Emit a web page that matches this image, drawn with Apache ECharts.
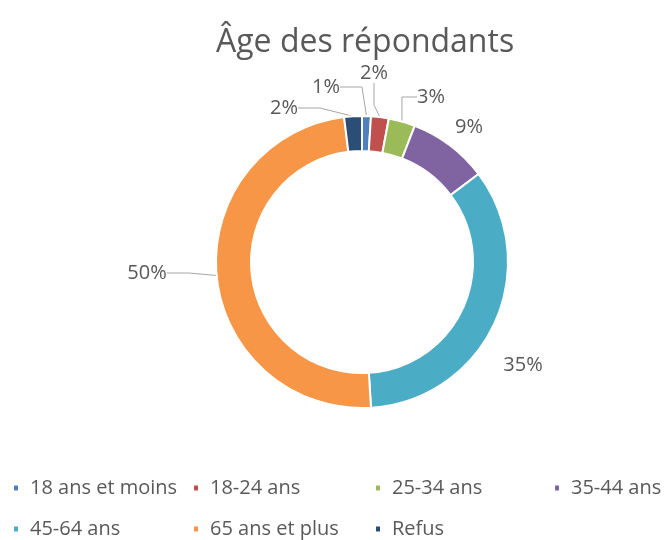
<!DOCTYPE html>
<html>
<head>
<meta charset="utf-8">
<script src="https://cdn.jsdelivr.net/npm/echarts@6/dist/echarts.min.js"></script>
<style>
  html, body { margin: 0; padding: 0; background: #fff; }
  #chart { width: 667px; height: 540px; }
</style>
</head>
<body>
<div id="chart"></div>
<script>
// Données (pourcentages)
const categories = ['18 ans et moins', '18-24 ans', '25-34 ans', '35-44 ans', '45-64 ans', '65 ans et plus', 'Refus'];
const values = [1, 2, 3, 9, 35, 50, 2];
const colors = ['#4F81BD', '#C0504D', '#9BBB59', '#8064A2', '#4BACC6', '#F79646', '#2C4D75'];

// Légende : 2 lignes, 4 colonnes
const legendColumns = [
  ['18 ans et moins', '45-64 ans'],
  ['18-24 ans', '65 ans et plus'],
  ['25-34 ans', 'Refus'],
  ['35-44 ans']
];
const legendLefts = [12, 192, 374, 553];

// Placement des étiquettes façon Excel (centre du texte), sans trait pour 9% et 35%
const labelSpots = [[326, 87], [374, 73], [431, 97], [469, 127], [523, 365], [147, 273], [284, 108]];
const noLine = [3, 4];

const textColor = '#595959';
const font = "'Open Sans', 'Noto Sans', sans-serif";

const chart = echarts.init(document.getElementById('chart'), null, { renderer: 'canvas' });

const pieData = categories.map((name, i) => ({
  name: name,
  value: values[i],
  itemStyle: { color: colors[i] },
  labelLine: { show: noLine.indexOf(i) < 0 }
}));

chart.setOption({
  animation: false,
  color: colors,
  title: {
    text: 'Âge des répondants',
    left: 211,
    top: 22,
    textStyle: { color: textColor, fontSize: 32, fontWeight: 'normal', fontFamily: font }
  },
  legend: legendColumns.map((col, i) => ({
    orient: 'vertical',
    left: legendLefts[i],
    top: 478,
    padding: 0,
    itemGap: 21,
    itemWidth: 6,
    itemHeight: 7,
    icon: 'rect',
    data: col,
    selectedMode: false,
    textStyle: { color: textColor, fontSize: 20, fontFamily: font, padding: [0, 0, 0, 6] }
  })),
  series: [{
    type: 'pie',
    center: [362, 262],
    radius: [111, 146],
    startAngle: 90,
    clockwise: true,
    avoidLabelOverlap: false,
    itemStyle: { borderColor: '#fff', borderWidth: 2 },
    label: {
      show: true,
      position: 'outside',
      formatter: '{c}%',
      color: textColor,
      fontSize: 20,
      fontFamily: font
    },
    labelLine: {
      show: true,
      length: 14,
      length2: 22,
      lineStyle: { color: '#A6A6A6', width: 1 }
    },
    labelLayout: function (params) {
      const p = labelSpots[params.dataIndex];
      return { x: p[0], y: p[1], align: 'center', verticalAlign: 'middle' };
    },
    emphasis: { disabled: true },
    data: pieData
  }]
});
</script>
</body>
</html>
